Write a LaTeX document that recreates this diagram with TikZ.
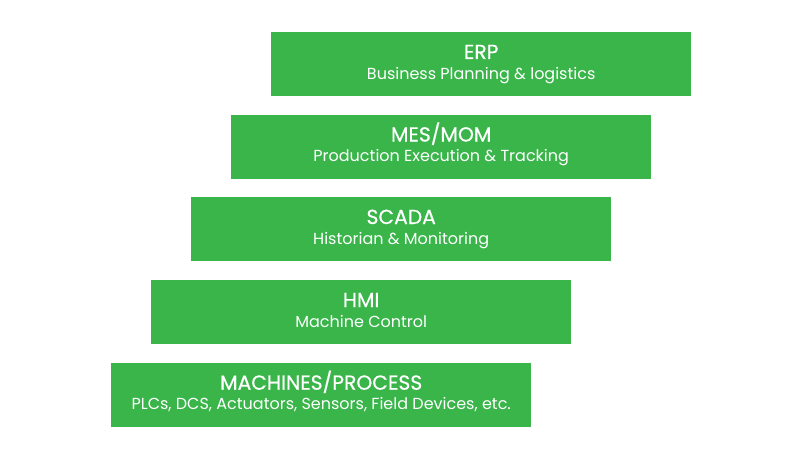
\documentclass[tikz,border=0pt]{standalone}
\usepackage{fontspec}
\setmainfont{Poppins}
\newfontfamily\titlefam[FakeBold=0.6]{Poppins}
\definecolor{boxgreen}{HTML}{39B54A}
\tikzset{
  layerbox/.style={fill=boxgreen, draw=none, minimum width=420pt, minimum height=64pt, inner sep=0pt, anchor=north west},
  layertitle/.style={text=white, anchor=base, inner sep=0pt, font=\titlefam\fontsize{20.3}{23}\selectfont},
  layersub/.style={text=white, anchor=base, inner sep=0pt, font=\fontsize{16}{19}\selectfont},
}
\begin{document}
\begin{tikzpicture}[x=1pt,y=-1pt]
\useasboundingbox (0,0) rectangle (800,452);
\node[layerbox] (erp) at (271,32) {};
\node[layerbox] (mes) at (231,114.5) {};
\node[layerbox] (scada) at (191,197) {};
\node[layerbox] (hmi) at (151,280) {};
\node[layerbox] (mach) at (111,362.7) {};
\node[layertitle] (erpT) at ([yshift=-27pt]erp.north) {ERP};
\node[layersub] (erpS) at ([yshift=-47pt]erp.north) {Business Planning \& logistics};
\node[layertitle] (mesT) at ([yshift=-27pt]mes.north) {MES/MOM};
\node[layersub] (mesS) at ([yshift=-47pt]mes.north) {Production Execution \& Tracking};
\node[layertitle] (scadaT) at ([yshift=-27pt]scada.north) {SCADA};
\node[layersub] (scadaS) at ([yshift=-47pt]scada.north) {Historian \& Monitoring};
\node[layertitle] (hmiT) at ([yshift=-27pt]hmi.north) {HMI};
\node[layersub] (hmiS) at ([yshift=-47pt]hmi.north) {Machine Control};
\node[layertitle] (machT) at ([yshift=-27pt]mach.north) {MACHINES/PROCESS};
\node[layersub] (machS) at ([yshift=-47pt]mach.north) {PLCs, DCS, Actuators, Sensors, Field Devices, etc.};
\end{tikzpicture}
\end{document}
